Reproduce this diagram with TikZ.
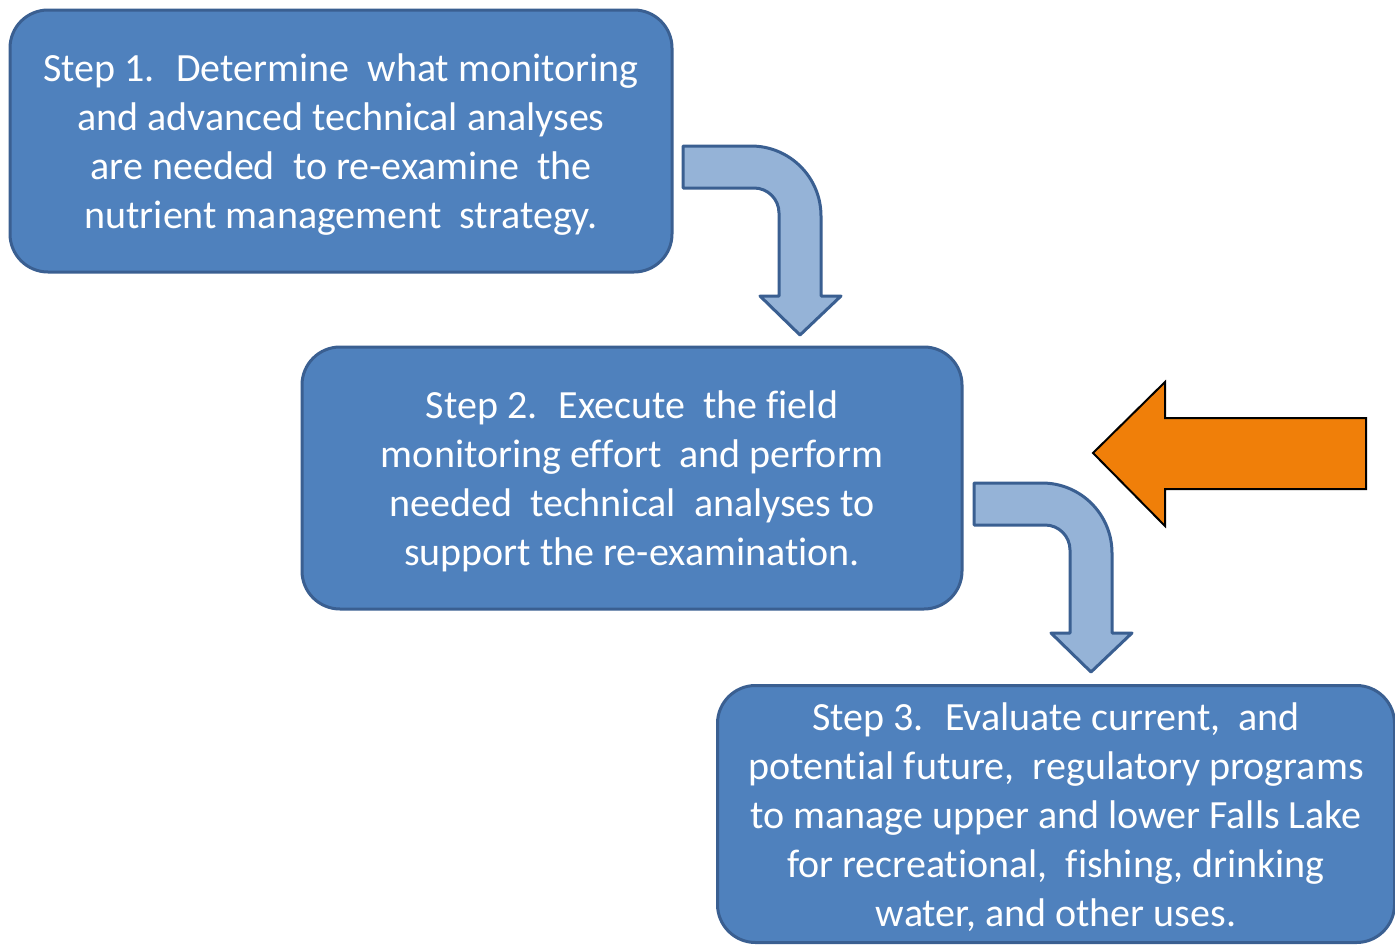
\documentclass[tikz,border=0pt]{standalone}
\usepackage{fontspec}
\setmainfont[Ligatures=NoCommon]{Carlito}
\definecolor{boxfill}{HTML}{4F81BD}
\definecolor{boxline}{RGB}{58,95,145}
\definecolor{arrowfill}{HTML}{95B3D7}
\definecolor{orangefill}{HTML}{F07F09}
\newcommand{\topstrut}{\rule{0pt}{35pt}}
\tikzset{
  stepbox/.style={draw=boxline, line width=3pt, fill=boxfill, rounded corners=38pt,
    text=white, align=center, inner sep=0pt,
    font=\fontsize{40}{49}\selectfont},
  bentstyle/.style={draw=boxline, line width=3pt, fill=arrowfill, line join=round},
  bentarrow/.pic={
    \path[bentstyle] (0,0) -- (68,0) .. controls (106.7,0) and (138,31.3) .. (138,70)
      -- (138,150) -- (158,150) -- (117,189) -- (77,150) -- (96,150) -- (96,67)
      .. controls (96,53.2) and (84.8,42) .. (71,42) -- (0,42) -- cycle;
  }
}
\begin{document}
\begin{tikzpicture}[x=1pt,y=-1pt]
\useasboundingbox[fill=white] (0,0) rectangle (1395,945);
\node[stepbox, minimum width=662pt, minimum height=262pt] (s1) at (341,141)
  {\topstrut Step 1.~ Determine~ what monitoring\\and advanced technical analyses\\are needed~ to re-examine~ the\\nutrient management~ strategy.};
\node[stepbox, minimum width=660pt, minimum height=262pt] (s2) at (632,478)
  {\topstrut Step 2.~ Execute~ the field\\monitoring effort~ and perform\\needed~ technical~ analyses to\\support the re-examination.};
\node[stepbox, minimum width=677pt, minimum height=257pt] (s3) at (1056,814)
  {\topstrut Step 3.~ Evaluate current,~ and\\potential future,~ regulatory programs\\to manage upper and lower Falls Lake\\for recreational,~ fishing, drinking\\water, and other uses.};
\pic at (683,146) {bentarrow};
\pic at (974,483) {bentarrow};
\draw[fill=orangefill, draw=black, line width=2pt, line join=miter]
  (1093,453) -- (1165,382) -- (1165,418) -- (1366,418) -- (1366,489)
  -- (1165,489) -- (1165,526) -- cycle;
\end{tikzpicture}
\end{document}
